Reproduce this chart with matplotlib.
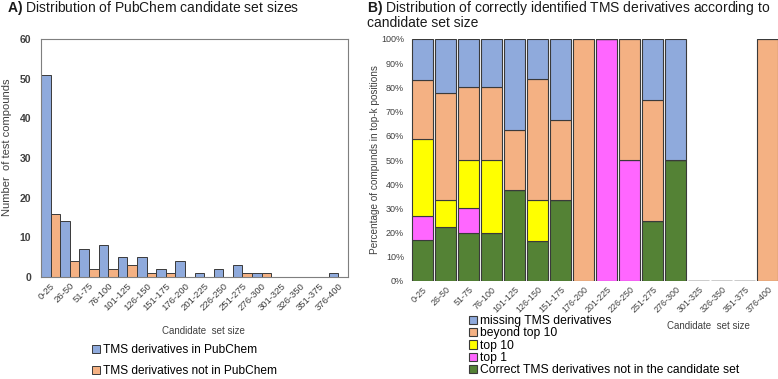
import matplotlib
matplotlib.use("Agg")
import matplotlib.pyplot as plt
import numpy as np

plt.rcParams['font.family'] = ['Liberation Sans', 'DejaVu Sans']
plt.rcParams['mathtext.fontset'] = 'custom'
plt.rcParams['mathtext.rm'] = 'Liberation Sans'
plt.rcParams['mathtext.bf'] = 'Liberation Sans:bold'

# candidate set size bins (shared by both panels)
bins = ["0-25", "26-50", "51-75", "76-100", "101-125", "126-150", "151-175",
        "176-200", "201-225", "226-250", "251-275", "276-300", "301-325",
        "326-350", "351-375", "376-400"]

# panel A: number of test compounds
in_pubchem = [51, 14, 7, 8, 5, 5, 2, 4, 1, 2, 3, 1, 0, 0, 0, 1]
not_in_pubchem = [16, 4, 2, 2, 3, 1, 1, 0, 0, 0, 1, 1, 0, 0, 0, 0]

# panel B: percentage of compounds per rank category (stacked bottom -> top)
correct_not_in_set = [17.1, 22.2, 20, 20, 37.5, 16.7, 33.3, 0, 0, 0, 25, 50, 0, 0, 0, 0]
top1 = [9.8, 0, 10, 0, 0, 0, 0, 0, 100, 50, 0, 0, 0, 0, 0, 0]
top10 = [31.7, 11.1, 20, 30, 0, 16.7, 0, 0, 0, 0, 0, 0, 0, 0, 0, 0]
beyond_top10 = [24.4, 44.4, 30, 30, 25, 50, 33.3, 100, 0, 50, 50, 0, 0, 0, 0, 100]
missing = [17.1, 22.2, 20, 20, 37.5, 16.7, 33.3, 0, 0, 0, 25, 50, 0, 0, 0, 0]

BLUE = '#8faadc'
ORANGE = '#f4b183'
YELLOW = '#ffff00'
MAGENTA = '#ff66ff'
GREEN = '#548235'
EDGE = '#3a3a3a'
LABEL = '#404040'

W, H = 778, 379
fig = plt.figure(figsize=(W / 100, H / 100), dpi=100)

# ---------------- panel A ----------------
axA = fig.add_axes([41 / W, 1 - 277 / H, 307 / W, 238 / H])
x = np.arange(len(bins))
axA.bar(x - 0.25, in_pubchem, width=0.5, color=BLUE, edgecolor=EDGE,
        linewidth=0.7, label='TMS derivatives in PubChem')
axA.bar(x + 0.25, not_in_pubchem, width=0.5, color=ORANGE, edgecolor=EDGE,
        linewidth=0.7, label='TMS derivatives not in PubChem')
axA.set_xlim(-0.5, len(bins) - 0.5)
axA.set_ylim(0, 60)
axA.set_yticks(range(0, 61, 10))
axA.set_yticklabels([str(v) for v in range(0, 61, 10)], fontsize=7.5,
                    fontweight='bold', color=LABEL)
axA.set_xticks(x)
axA.set_xticklabels(bins, rotation=45, ha='right', rotation_mode='anchor',
                    fontsize=6.8, color=LABEL)
axA.tick_params(length=0)
axA.tick_params(axis='y', pad=7)
axA.tick_params(axis='x', pad=3)
for s in axA.spines.values():
    s.set_color('#7f7f7f')
    s.set_linewidth(0.8)
fig.text(7 / W, 1 - 147 / H, 'Number  of test compounds', fontsize=8,
         color=LABEL, rotation=90, ha='center', va='center')
fig.text(203 / W, 1 - 331 / H, 'Candidate  set size', fontsize=7,
         color=LABEL, ha='center', va='center')
fig.text(7 / W, 1 - 8 / H, r'$\bf{A)}$ Distribution of PubChem candidate set sizes',
         fontsize=10, va='center', ha='left', color='#1a1a1a')
axA.legend(loc='upper left', bbox_to_anchor=(92 / W, 1 - 344 / H),
           bbox_transform=fig.transFigure, frameon=False, fontsize=8.6,
           handlelength=0.7, handleheight=0.7, handletextpad=0.2,
           labelspacing=0.75, borderpad=0, borderaxespad=0)

# ---------------- panel B ----------------
axB = fig.add_axes([411 / W, 1 - 281 / H, 368 / W, 242 / H])
layers = [
    (correct_not_in_set, GREEN, 'Correct TMS derivatives not in the candidate set'),
    (top1, MAGENTA, 'top 1'),
    (top10, YELLOW, 'top 10'),
    (beyond_top10, ORANGE, 'beyond top 10'),
    (missing, BLUE, 'missing TMS derivatives'),
]
bottom = np.zeros(len(bins))
handles = []
for vals, col, lab in layers:
    vals = np.array(vals, dtype=float)
    h = axB.bar(x, vals, bottom=bottom, width=0.94, color=col, edgecolor=EDGE,
                linewidth=0.8, label=lab)
    handles.append(h)
    bottom += vals
axB.set_xlim(-0.5, len(bins) - 0.5)
axB.set_ylim(0, 100)
axB.set_yticks(range(0, 101, 10))
axB.set_yticklabels([f'{v}%' for v in range(0, 101, 10)], fontsize=6.5,
                    color=LABEL)
axB.set_xticks(x)
axB.set_xticklabels(bins, rotation=45, ha='right', rotation_mode='anchor',
                    fontsize=6.4, color=LABEL)
axB.tick_params(length=0)
axB.tick_params(axis='y', pad=5)
axB.tick_params(axis='x', pad=3)
for s in axB.spines.values():
    s.set_visible(False)
fig.text(375 / W, 1 - 160 / H, 'Percentage of compunds in top-k positions',
         fontsize=7.2, color=LABEL, rotation=90, ha='center', va='center')
fig.text(708 / W, 1 - 326 / H, 'Candidate  set size', fontsize=7,
         color=LABEL, ha='center', va='center')
fig.text(367 / W, 1 - 8 / H,
         r'$\bf{B)}$ Distribution of correctly identified TMS derivatives according to',
         fontsize=10, va='center', ha='left', color='#1a1a1a')
fig.text(367 / W, 1 - 23 / H, 'candidate set size',
         fontsize=10, va='center', ha='left', color='#1a1a1a')
axB.legend(handles=handles[::-1], loc='upper left',
           bbox_to_anchor=(469 / W, 1 - 315 / H),
           bbox_transform=fig.transFigure, frameon=False, fontsize=8.7,
           handlelength=0.7, handleheight=0.7, handletextpad=0.2,
           labelspacing=0.03, borderpad=0, borderaxespad=0)

fig.savefig('out.png', dpi=100)
